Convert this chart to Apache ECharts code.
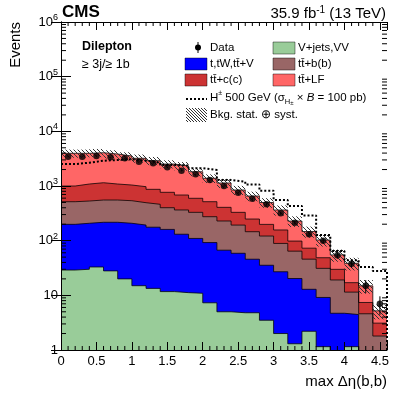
<!DOCTYPE html>
<html>
<head>
<meta charset="utf-8">
<script src="https://cdn.jsdelivr.net/npm/echarts@6/dist/echarts.min.js"></script>
<style>
html, body { margin: 0; padding: 0; background: #fff; }
#chart { width: 407px; height: 395px; }
</style>
</head>
<body>
<div id="chart"></div>
<script>
// bins of max deta(b,b), lower edges, width 0.2
var binLow = [0, 0.2, 0.4, 0.6, 0.8, 1.0, 1.2, 1.4, 1.6, 1.8, 2.0, 2.2, 2.4, 2.6, 2.8, 3.0, 3.2, 3.4, 3.6, 3.8, 4.0, 4.2, 4.4];
var binWidth = 0.2;

// backgrounds (events per bin)
var vjets     = [29, 30, 33, 28, 20, 15, 13.4, 11.7, 11.2, 10.9, 7.3, 5.0, 4.8, 4.8, 3.5, 2.0, 1.3, 2.2, 1.15, 0.3, 1.15, 0.2, 0.2];
var singleTop = [170, 178, 184, 189, 188, 178, 163, 149, 120, 99, 85, 62, 54, 41, 32, 25, 19, 10.7, 8, 4.4, 3.3, 0.5, 0.5];
var ttbb      = [317, 323, 337, 337, 330, 302, 286, 240, 233, 220, 182, 162, 134, 100, 86, 62, 44, 33, 22, 14.4, 7.0, 3.9, 1.1];
var ttcc      = [484, 556, 594, 533, 504, 476, 407, 366, 320, 266, 242, 178, 137, 103, 77, 68, 34, 27, 17.6, 10.8, 5.6, 2.8, 1.3];
var ttlf      = [2963, 2873, 2916, 2759, 2496, 2241, 2033, 1757, 1637, 1229, 867, 728, 515, 407, 300, 207, 130, 74, 54, 25, 21.5, 7.5, 2.1];
// relative bkg uncertainty (stat + syst)
var bkgUnc    = [0.17, 0.17, 0.17, 0.17, 0.17, 0.17, 0.17, 0.17, 0.18, 0.18, 0.18, 0.19, 0.19, 0.2, 0.2, 0.21, 0.22, 0.23, 0.24, 0.25, 0.26, 0.28, 0.3];

// data
var dataObs = [3440, 3440, 3540, 3350, 3210, 2780, 2600, 2200, 1900, 1640, 1290, 1000, 754, 586, 462, 317, 213, 131, 100, 54, 38, 15, 7];
var dataErr = [59, 59, 59, 58, 57, 53, 51, 47, 44, 40, 36, 32, 27, 24, 21, 18, 15, 11, 10, 7, 6, 4, 2.6];

// H+ 500 GeV signal
var hplus = [2520, 2670, 2900, 2990, 3080, 2900, 2670, 2420, 2370, 2110, 1960, 1290, 1200, 1070, 820, 554, 431, 289, 127, 65, 44, 33, 28];

var FONT = '"Liberation Sans", Arial, Helvetica, sans-serif';
var xMax = 4.6;
var n = binLow.length;

var layers = [
  { name: 'V+jets,VV', vals: vjets, color: '#99cc99' },
  { name: 't,tW,tt\u0304+V', vals: singleTop, color: '#0000ff' },
  { name: 'tt\u0304+b(b)', vals: ttbb, color: '#996666' },
  { name: 'tt\u0304+c(c)', vals: ttcc, color: '#cc3333' },
  { name: 'tt\u0304+LF', vals: ttlf, color: '#ff6666' }
];
var running = binLow.map(function () { return 0; });
layers.forEach(function (l) {
  running = running.map(function (v, i) { return v + l.vals[i]; });
  l.cum = running.slice();
});
var total = running;

// histogram as step line: one point per lower edge + closing edge
function stepData(vals) {
  var d = binLow.map(function (x, i) { return [x, vals[i]]; });
  d.push([binLow[n - 1] + binWidth, vals[n - 1]]);
  return d;
}

// diagonal hatch lines inside a pixel rect
function hatchLines(x0, y0, x1, y1, sp) {
  var out = [];
  var c = Math.ceil((y0 - x1) / sp) * sp;
  for (; c <= y1 - x0; c += sp) {
    var xa = Math.max(x0, y0 - c), xb = Math.min(x1, y1 - c);
    if (xb > xa) {
      out.push({ type: 'line', shape: { x1: xa, y1: xa + c, x2: xb, y2: xb + c }, style: { stroke: '#333', lineWidth: 1 } });
    }
  }
  return out;
}

var series = [];
// stacked fills, top first so lower layers overlay
layers.slice().reverse().forEach(function (l, i) {
  series.push({
    type: 'line', name: l.name, step: 'end', symbol: 'none', silent: true, z: 2,
    data: stepData(l.cum),
    lineStyle: { color: 'rgba(0,0,0,0.75)', width: 1 },
    areaStyle: { color: l.color, opacity: 1, origin: 'start' }
  });
});

// uncertainty hatch
series.push({
  type: 'custom', silent: true, z: 4,
  data: binLow.map(function (x, i) {
    return [x, x + binWidth, total[i] * (1 - bkgUnc[i]), total[i] * (1 + bkgUnc[i])];
  }),
  encode: { x: [0, 1], y: [2, 3] },
  renderItem: function (params, api) {
    var p0 = api.coord([api.value(0), api.value(3)]);
    var p1 = api.coord([api.value(1), api.value(2)]);
    return { type: 'group', children: hatchLines(p0[0], p0[1], p1[0], p1[1], 4) };
  }
});

// H+ signal
var hData = stepData(hplus);
hData.push([xMax, 0.01]);
series.push({
  type: 'line', step: 'end', symbol: 'none', silent: true, z: 5,
  data: hData,
  lineStyle: { color: '#000', width: 2, type: [2, 2] }
});

// data error bars
series.push({
  type: 'custom', silent: true, z: 6,
  data: binLow.map(function (x, i) {
    return [x + binWidth / 2, dataObs[i] - dataErr[i], dataObs[i] + dataErr[i]];
  }),
  encode: { x: 0, y: [1, 2] },
  renderItem: function (params, api) {
    var a = api.coord([api.value(0), api.value(1)]);
    var b = api.coord([api.value(0), api.value(2)]);
    return { type: 'line', shape: { x1: a[0], y1: a[1], x2: b[0], y2: b[1] }, style: { stroke: '#000', lineWidth: 1 } };
  }
});

// data points
series.push({
  type: 'scatter', silent: true, symbol: 'circle', symbolSize: 6.5, z: 7,
  itemStyle: { color: '#000' },
  data: binLow.map(function (x, i) { return [x + binWidth / 2, dataObs[i]]; })
});

// minor ticks (log y and 0.1 on x), on all four sides
series.push({
  type: 'custom', silent: true, clip: false, z: 20,
  data: [[0, 1]],
  encode: { x: 0, y: 1 },
  renderItem: function (params, api) {
    var kids = [];
    var st = { stroke: '#000', lineWidth: 1 };
    for (var d = 0; d < 6; d++) {
      for (var m = 2; m <= 9; m++) {
        var v = m * Math.pow(10, d);
        var l = api.coord([0, v]), r = api.coord([xMax, v]);
        kids.push({ type: 'line', shape: { x1: l[0], y1: l[1], x2: l[0] + 5, y2: l[1] }, style: st });
        kids.push({ type: 'line', shape: { x1: r[0] - 5, y1: r[1], x2: r[0], y2: r[1] }, style: st });
      }
    }
    for (var k = 1; k < 46; k++) {
      if (k % 5 === 0) continue;
      var b = api.coord([k / 10, 1]), t = api.coord([k / 10, 1e6]);
      kids.push({ type: 'line', shape: { x1: b[0], y1: b[1], x2: b[0], y2: b[1] - 4 }, style: st });
      kids.push({ type: 'line', shape: { x1: t[0], y1: t[1], x2: t[0], y2: t[1] + 4 }, style: st });
    }
    return { type: 'group', children: kids };
  }
});

var axisLineStyle = { show: true, lineStyle: { color: '#000', width: 1 } };

var graphics = [
  { type: 'text', left: 62, top: 4, style: { text: 'CMS', font: 'bold 17px ' + FONT, fill: '#000' } },
  { type: 'text', x: 386, y: 14, style: {
      text: '{n|35.9 fb}{s|-1}{n| (13 TeV)}', align: 'right', verticalAlign: 'middle',
      rich: { n: { fontSize: 15, fontFamily: FONT, lineHeight: 18, verticalAlign: 'middle' },
              s: { fontSize: 10, fontFamily: FONT, lineHeight: 10, verticalAlign: 'top' } } } },
  { type: 'text', x: 16, y: 22, rotation: Math.PI / 2, style: { text: 'Events', font: '15px ' + FONT, align: 'right', verticalAlign: 'middle', fill: '#000' } },
  { type: 'text', x: 387, y: 382, style: { text: 'max \u0394\u03b7(b,b)', font: '15px ' + FONT, align: 'right', verticalAlign: 'middle', fill: '#000' } },
  { type: 'text', x: 82, y: 47, style: { text: 'Dilepton', font: 'bold 12.5px ' + FONT, verticalAlign: 'middle', fill: '#000' } },
  { type: 'text', x: 82, y: 65, style: { text: '\u2265 3j/\u2265 1b', font: '12.5px ' + FONT, verticalAlign: 'middle', fill: '#000' } },
  // legend: data
  { type: 'line', shape: { x1: 198, y1: 42, x2: 198, y2: 53 }, style: { stroke: '#000', lineWidth: 1 } },
  { type: 'circle', shape: { cx: 198, cy: 47.5, r: 3 }, style: { fill: '#000' } }
];

function legendText(x, y, txt) {
  graphics.push({ type: 'text', x: x, y: y, style: { text: txt, font: '11.5px ' + FONT, verticalAlign: 'middle', fill: '#000' } });
}
function legendBox(x, y, color) {
  graphics.push({ type: 'rect', shape: { x: x, y: y, width: 22, height: 12 }, style: { fill: color, stroke: 'rgba(0,0,0,0.55)', lineWidth: 0.8 } });
}
legendText(210, 48, 'Data');
legendBox(273, 42, layers[0].color); legendText(298, 48, layers[0].name);
legendBox(185, 58, layers[1].color); legendText(210, 64, layers[1].name);
legendBox(273, 58, layers[2].color); legendText(298, 64, layers[2].name);
legendBox(185, 74, layers[3].color); legendText(210, 80, layers[3].name);
legendBox(273, 74, layers[4].color); legendText(298, 80, layers[4].name);
graphics.push({ type: 'line', shape: { x1: 186, y1: 99, x2: 207, y2: 99 }, style: { stroke: '#000', lineWidth: 2, lineDash: [2, 2] } });
graphics.push({ type: 'text', x: 210, y: 98, style: {
  text: '{n|H}{p|\u00b1}{n| 500 GeV (\u03c3}{b|H}{c|\u00b1}{n| \u00d7 }{i|B}{n| = 100 pb)}',
  verticalAlign: 'middle',
  rich: {
    n: { fontSize: 11.5, fontFamily: FONT, lineHeight: 16, verticalAlign: 'middle' },
    i: { fontSize: 11.5, fontFamily: FONT, fontStyle: 'italic', lineHeight: 16, verticalAlign: 'middle' },
    p: { fontSize: 7, fontFamily: FONT, lineHeight: 7, verticalAlign: 'top' },
    b: { fontSize: 7.5, fontFamily: FONT, lineHeight: 7, verticalAlign: 'bottom' },
    c: { fontSize: 6, fontFamily: FONT, lineHeight: 12, verticalAlign: 'bottom' }
  } } });
graphics.push({ type: 'group', children: hatchLines(186, 108, 207, 122, 3) });
legendText(210, 115, 'Bkg. stat. \u2295 syst.');

var myChart = echarts.init(document.getElementById('chart'));
myChart.setOption({
  animation: false,
  backgroundColor: '#fff',
  grid: { left: 61, top: 22, width: 326, height: 328 },
  xAxis: [{
    type: 'value', min: 0, max: xMax, interval: 0.5, z: 10,
    axisLine: axisLineStyle,
    axisTick: { show: true, inside: true, length: 8, lineStyle: { color: '#000' } },
    axisLabel: {
      margin: 5, color: '#000', fontSize: 13, fontFamily: FONT,
      formatter: function (v) { return v > 4.55 ? '' : String(v); }
    },
    splitLine: { show: false }
  }, {
    type: 'value', position: 'top', min: 0, max: xMax, interval: 0.5, z: 10,
    axisLine: axisLineStyle,
    axisTick: { show: true, inside: true, length: 8, lineStyle: { color: '#000' } },
    axisLabel: { show: false },
    splitLine: { show: false }
  }],
  yAxis: [{
    type: 'log', logBase: 10, min: 1, max: 1e6, splitNumber: 6, z: 10,
    axisLine: axisLineStyle,
    axisTick: { show: true, inside: true, length: 10, lineStyle: { color: '#000' } },
    axisLabel: {
      margin: 3, color: '#000',
      formatter: function (v) {
        var e = Math.round(Math.log10(v));
        if (e === 0) return '{b|1}';
        if (e === 1) return '{b|10}';
        return '{b|10}{s|' + e + '}';
      },
      rich: {
        b: { fontSize: 13, fontFamily: FONT, color: '#000', lineHeight: 18, verticalAlign: 'middle' },
        s: { fontSize: 9, fontFamily: FONT, color: '#000', lineHeight: 9, verticalAlign: 'top' }
      }
    },
    splitLine: { show: false }
  }, {
    type: 'log', logBase: 10, min: 1, max: 1e6, splitNumber: 6, position: 'right', z: 10,
    axisLine: axisLineStyle,
    axisTick: { show: true, inside: true, length: 10, lineStyle: { color: '#000' } },
    axisLabel: { show: false },
    splitLine: { show: false }
  }],
  graphic: graphics,
  series: series
});
</script>
</body>
</html>
